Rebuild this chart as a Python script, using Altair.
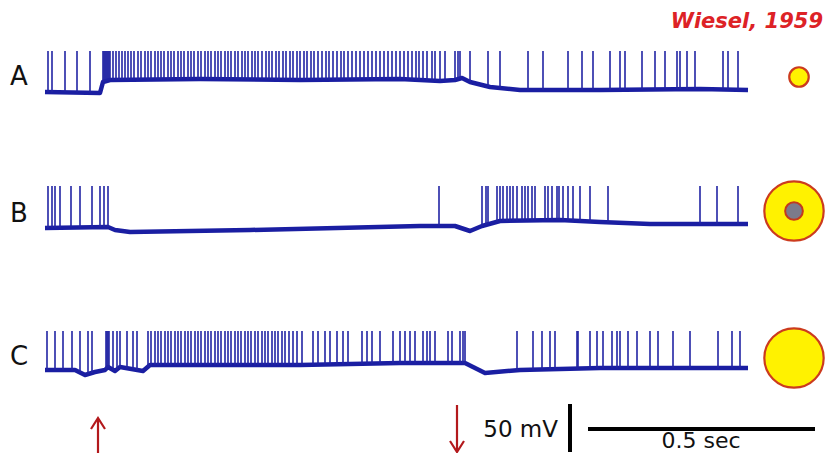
import altair as alt
import pandas as pd
import numpy as np

# ---------------- data (picture units: x to the right, y downward) ----------------
TRACES = ["A", "B", "C"]

A_base_x = [45, 100, 103, 110, 200, 300, 400, 440, 455, 462, 470, 490, 520, 600, 700, 748]
A_base_y = [92, 93, 82, 80, 79, 80, 79, 81, 80, 78, 82, 87, 90, 90, 89, 90]
A_top = 51
A_spikes = [48, 52, 65, 77, 90,
            103, 104, 105, 106, 107, 108, 109, 110,
            113, 116, 119, 122, 125, 128, 131, 134, 138, 141, 145, 148, 151, 155, 158, 161,
            164, 168, 171, 174, 178, 181, 184, 188, 191, 194, 198, 201, 205, 208, 211, 215,
            218, 221, 225, 228, 231, 235, 238, 242, 245, 248, 252, 255, 258, 262, 266, 269,
            272, 276, 279, 283, 286, 290, 293, 297, 300, 304, 307, 311, 314, 318, 322, 326,
            329, 333, 337, 341, 344, 348, 352, 356, 360, 364, 368, 372, 376, 380, 384, 388,
            392, 396, 400, 404, 408, 412, 416, 419, 423, 427, 432, 435, 440, 445, 455, 458,
            460, 470, 488, 500, 528, 543, 568, 582, 593, 610, 620, 625, 642, 655, 665, 677,
            680, 687, 695, 723, 728, 738]

B_base_x = [45, 108, 115, 130, 250, 420, 455, 470, 482, 500, 560, 600, 650, 748]
B_base_y = [228, 227, 230, 232, 230, 226, 226, 231, 226, 221, 220, 222, 224, 224]
B_top = 186
B_spikes = [48, 52, 55, 60, 71, 80, 92, 100, 104, 108,
            439, 482, 486, 488, 497, 500, 503, 507, 510, 513, 517, 522, 525, 528, 532, 535,
            545, 548, 552, 557, 559, 563, 568, 573, 580, 590, 608, 700, 717, 738]

C_base_x = [45, 75, 85, 95, 105, 108, 115, 120, 143, 150, 300, 400, 465, 475, 485, 520, 600, 748]
C_base_y = [370, 370, 375, 372, 370, 367, 371, 367, 371, 365, 365, 363, 363, 368, 373, 370, 368, 368]
C_top = 331
C_spikes = [47, 55, 63, 72, 80, 88, 92,
            106, 107, 108, 109, 113, 117, 120, 127, 133, 137,
            148, 151, 155, 158, 161, 165, 168, 171, 175, 178, 181, 185, 188, 191, 195, 198,
            201, 205, 208, 211, 215, 218, 221, 225, 228, 231, 235, 238, 241, 245, 248, 251,
            255, 258, 262, 265, 268, 272, 275, 278, 282, 285, 289, 293, 297, 302,
            313, 318, 325, 330, 337, 343, 348, 362, 367, 372, 380, 393, 400, 405, 410, 415,
            423, 427, 430, 435, 448, 452, 460, 463, 465, 517, 533, 542, 550, 555, 577, 578,
            590, 597, 603, 612, 617, 620, 628, 637, 650, 658, 673, 690, 718, 732, 740]

label_x = [10, 10, 10]
label_y = [85, 222, 365]

# stimulus icons
circle_x = [799, 794, 794]
circle_y = [77, 211, 358]
circle_r = [11, 33.5, 33.5]
inner_x = [794]
inner_y = [211]
inner_r = [10]

# arrows (on / off)
up_shaft_x, up_shaft_y1, up_shaft_y2 = [98], [419], [453]
up_head_x, up_head_y = [91, 98, 105], [429, 418, 429]
dn_shaft_x, dn_shaft_y1, dn_shaft_y2 = [457], [405], [451]
dn_head_x, dn_head_y = [450, 457, 464], [441, 452, 441]

# scale bars
vbar_x, vbar_y1, vbar_y2 = [570], [404], [452]
hbar_x1, hbar_x2, hbar_y = [588], [815], [429]

# ---------------- build tables ----------------
bases = {"A": (A_base_x, A_base_y), "B": (B_base_x, B_base_y), "C": (C_base_x, C_base_y)}
spikes = {"A": (A_spikes, A_top), "B": (B_spikes, B_top), "C": (C_spikes, C_top)}

base_rows = []
spike_rows = []
for tr in TRACES:
    bx, by = bases[tr]
    for i, (x, y) in enumerate(zip(bx, by)):
        base_rows.append({"trace": tr, "order": i, "x": x, "y": y})
    sx, top = spikes[tr]
    sb = np.interp(sx, bx, by)
    for x, b in zip(sx, sb):
        spike_rows.append({"trace": tr, "x": x, "y": float(b), "y2": top})
base_df = pd.DataFrame(base_rows)
spike_df = pd.DataFrame(spike_rows)

xs = alt.Scale(domain=[8, 828], nice=False, zero=False)
ys = alt.Scale(domain=[8, 453], nice=False, zero=False, reverse=True)


def X(f="x"):
    return alt.X(f, type="quantitative", scale=xs, axis=None)


def Y(f="y"):
    return alt.Y(f, type="quantitative", scale=ys, axis=None)


TRACE_COLOR = "#1a1ea2"
SPIKE_COLOR = "#2124a4"
RED = "#b3191c"

baseline = alt.Chart(base_df).mark_line(color=TRACE_COLOR, strokeWidth=4.5, strokeJoin="round").encode(
    x=X(), y=Y(), detail="trace:N", order="order:Q")

spk = alt.Chart(spike_df).mark_rule(color=SPIKE_COLOR, strokeWidth=1.6).encode(
    x=X(), y=Y(), y2="y2:Q")

labels = alt.Chart(pd.DataFrame({"x": label_x, "y": label_y, "t": TRACES})).mark_text(
    align="left", baseline="alphabetic", font="DejaVu Sans", fontSize=26, color="#111111").encode(
    x=X(), y=Y(), text="t:N")

cdf = pd.DataFrame({"x": circle_x, "y": circle_y, "s": [np.pi * r * r for r in circle_r]})
circles = alt.Chart(cdf).mark_point(shape="circle", filled=True, fill="#fff200", stroke="#cc3b1e",
                                    strokeWidth=2.2, opacity=1, fillOpacity=1).encode(
    x=X(), y=Y(), size=alt.Size("s:Q", scale=None, legend=None))

idf = pd.DataFrame({"x": inner_x, "y": inner_y, "s": [np.pi * r * r for r in inner_r]})
inner = alt.Chart(idf).mark_point(shape="circle", filled=True, fill="#7b7b8a", stroke="#c23a1e",
                                  strokeWidth=2, opacity=1, fillOpacity=1).encode(
    x=X(), y=Y(), size=alt.Size("s:Q", scale=None, legend=None))

title = alt.Chart(pd.DataFrame({"x": [823], "y": [28], "t": ["Wiesel, 1959"]})).mark_text(
    align="right", baseline="alphabetic", font="DejaVu Sans", fontSize=21, fontWeight="bold",
    fontStyle="italic", color="#dd2226").encode(x=X(), y=Y(), text="t:N")

shafts = alt.Chart(pd.DataFrame({"x": up_shaft_x + dn_shaft_x,
                                 "y": up_shaft_y1 + dn_shaft_y1,
                                 "y2": up_shaft_y2 + dn_shaft_y2})).mark_rule(
    color=RED, strokeWidth=2.2).encode(x=X(), y=Y(), y2="y2:Q")

heads_df = pd.DataFrame({"x": up_head_x + dn_head_x, "y": up_head_y + dn_head_y,
                         "k": ["up"] * 3 + ["dn"] * 3, "o": [0, 1, 2, 0, 1, 2]})
heads = alt.Chart(heads_df).mark_line(color=RED, strokeWidth=2.2, strokeJoin="miter").encode(
    x=X(), y=Y(), detail="k:N", order="o:Q")

vbar = alt.Chart(pd.DataFrame({"x": vbar_x, "y": vbar_y1, "y2": vbar_y2})).mark_rule(
    color="black", strokeWidth=4).encode(x=X(), y=Y(), y2="y2:Q")
hbar = alt.Chart(pd.DataFrame({"x": hbar_x1, "x2": hbar_x2, "y": hbar_y})).mark_rule(
    color="black", strokeWidth=4).encode(x=X(), x2="x2:Q", y=Y())

stext1 = alt.Chart(pd.DataFrame({"x": [558], "y": [437], "t": ["50 mV"]})).mark_text(
    align="right", baseline="alphabetic", font="DejaVu Sans", fontSize=23, color="#111111").encode(
    x=X(), y=Y(), text="t:N")
stext2 = alt.Chart(pd.DataFrame({"x": [701], "y": [448], "t": ["0.5 sec"]})).mark_text(
    align="center", baseline="alphabetic", font="DejaVu Sans", fontSize=22, color="#111111").encode(
    x=X(), y=Y(), text="t:N")

chart = alt.layer(baseline, spk, labels, circles, inner, title, shafts, heads, vbar, hbar,
                  stext1, stext2).properties(
    width=820, height=445, padding=0, autosize="none", background="white"
).configure_view(stroke=None)

chart.save("out.html", embed_options={"renderer": "svg", "actions": False})
